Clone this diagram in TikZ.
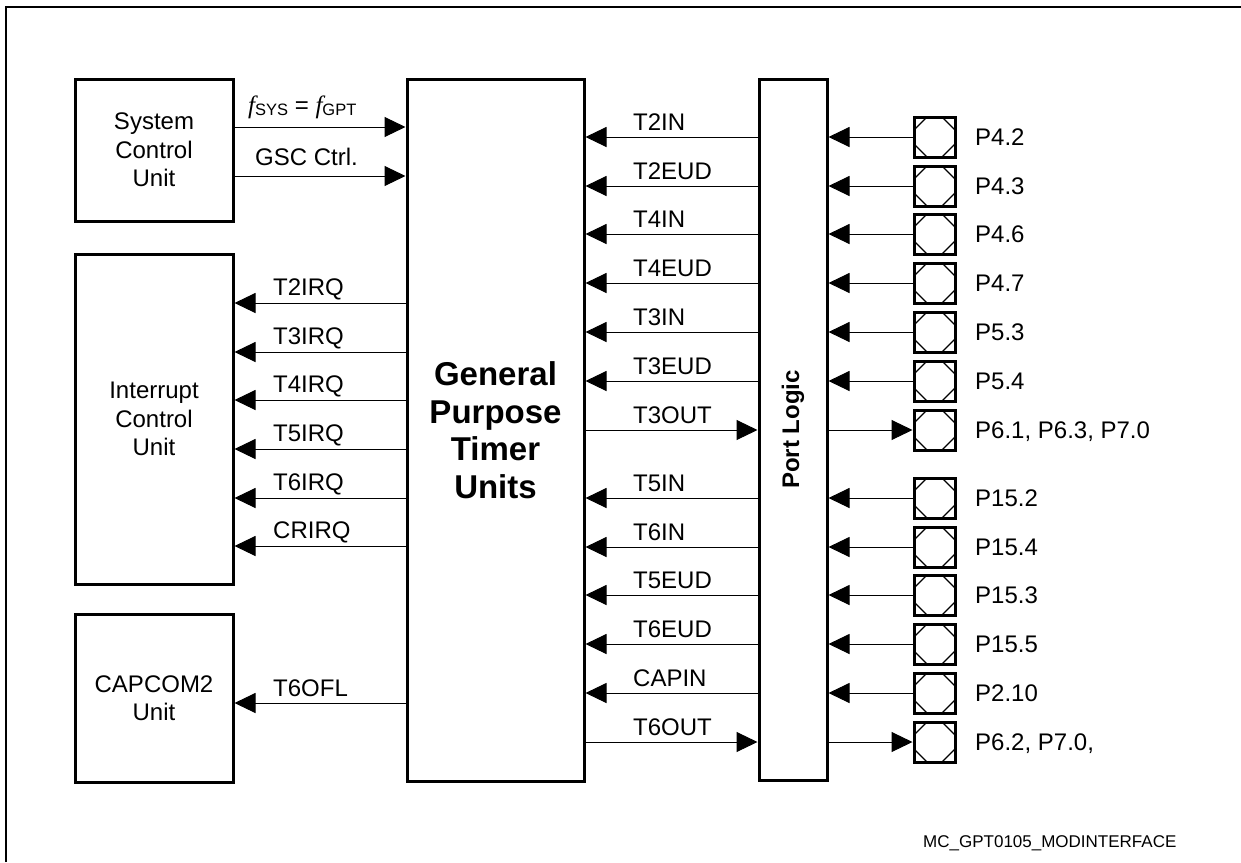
\documentclass[tikz,border=0pt]{standalone}
\usepackage{fontspec}
\setmainfont{Liberation Sans}
\newfontfamily\tnr{Liberation Serif}
\usetikzlibrary{arrows.meta}
\begin{document}
\begin{tikzpicture}[x=1pt,y=-1pt,
  blk/.style={draw, line width=3pt, minimum width=158pt, align=center, inner sep=0pt,
    font=\fontsize{24}{28.5}\selectfont},
  pinbox/.style={draw, line width=3pt, minimum width=41pt, minimum height=40pt, inner sep=0pt,
    path picture={\draw[line width=1.3pt]
      ([xshift=13pt]path picture bounding box.north west) -- ([yshift=-13pt]path picture bounding box.north west)
      ([xshift=-13pt]path picture bounding box.north east) -- ([yshift=-13pt]path picture bounding box.north east)
      ([xshift=13pt]path picture bounding box.south west) -- ([yshift=13pt]path picture bounding box.south west)
      ([xshift=-13pt]path picture bounding box.south east) -- ([yshift=13pt]path picture bounding box.south east);}},
  lbl/.style={anchor=base west, inner sep=0pt, font=\fontsize{24}{24}\selectfont},
  conn/.style={line width=1pt, -{Triangle[length=21pt,width=20pt]}},
]
\useasboundingbox (0,0) rectangle (1241,862);
% frame
\coordinate (fbl) at (6,862);
\coordinate (ftl) at (6,7);
\coordinate (ftr) at (1241,7);
\draw[line width=1.3pt] (fbl) -- (ftl) -- (ftr);

% blocks
\node[blk, minimum height=142pt] (scu) at (154,150) {System\\Control\\Unit};
\node[blk, minimum height=330pt] (icu) at (154,419) {Interrupt\\Control\\Unit};
\node[blk, minimum height=168pt] (cap) at (154,698) {CAPCOM2\\Unit};
\node[draw, line width=3pt, minimum width=177pt, minimum height=702pt, inner sep=0pt] (gpt) at (495.5,430) {};
\node[align=center, font=\bfseries\fontsize{33}{37.5}\selectfont] (gpttxt) at (gpt.center) {General\\Purpose\\Timer\\Units};
\node[draw, line width=3pt, minimum width=68pt, minimum height=701pt, inner sep=0pt] (pl) at (793,429.5) {};
\node[rotate=90, font=\bfseries\fontsize{24}{24}\selectfont] (pltxt) at (pl.center) {Port Logic};

% pins
\foreach \n/\y in {1/137,2/186,3/234,4/283,5/332,6/381,7/430,8/498,9/547,10/595,11/644,12/693,13/742}{
  \node[pinbox] (p\n) at (934.5,\y) {};
}
% pin labels
\foreach \n/\t in {1/P4.2,2/P4.3,3/P4.6,4/P4.7,5/P5.3,6/P5.4,7/{P6.1, P6.3, P7.0},8/P15.2,9/P15.4,10/P15.3,11/P15.5,12/P2.10,13/{P6.2, P7.0,}}{
  \node[lbl] (pl\n) at ([shift={(18.5pt,-8pt)}]p\n.east) {\t};
}

% GPT <-> Port logic connectors and labels
\foreach \n/\t in {1/T2IN,2/T2EUD,3/T4IN,4/T4EUD,5/T3IN,6/T3EUD,8/T5IN,9/T6IN,10/T5EUD,11/T6EUD,12/CAPIN}{
  \draw[conn] (pl.west |- p\n) -- (gpt.east |- p\n);
  \draw[conn] (p\n.west) -- (pl.east |- p\n);
  \node[lbl] (g\n) at ([yshift=7pt]633,0 |- p\n) {\t};
}
\foreach \n/\t in {7/T3OUT,13/T6OUT}{
  \draw[conn] (gpt.east |- p\n) -- (pl.west |- p\n);
  \draw[conn] (pl.east |- p\n) -- (p\n.west);
  \node[lbl] (g\n) at ([yshift=7pt]633,0 |- p\n) {\t};
}

% interrupt connectors
\foreach \n/\y/\t in {1/303/T2IRQ,2/352/T3IRQ,3/400/T4IRQ,4/449/T5IRQ,5/498/T6IRQ,6/546/CRIRQ}{
  \coordinate (i\n) at (0,\y);
  \draw[conn] (gpt.west |- i\n) -- (icu.east |- i\n);
  \node[lbl] (il\n) at (273,\y-7.5) {\t};
}
% capcom connector
\coordinate (c1) at (0,703);
\draw[conn] (gpt.west |- c1) -- (cap.east |- c1);
\node[lbl] (cl1) at (273,696) {T6OFL};

% system control connectors
\coordinate (s1) at (0,127);
\coordinate (s2) at (0,176);
\draw[conn] (scu.east |- s1) -- (gpt.west |- s1);
\draw[conn] (scu.east |- s2) -- (gpt.west |- s2);
\node[lbl] (sl1) at (248,113) {{\tnr\itshape\fontsize{25}{25}\selectfont f}\raisebox{-2pt}{\fontsize{16.5}{16.5}\selectfont SYS} = {\tnr\itshape\fontsize{25}{25}\selectfont f}\raisebox{-2pt}{\fontsize{16.5}{16.5}\selectfont GPT}};
\node[lbl] (sl2) at (255,165) {GSC Ctrl.};

% figure id
\node[anchor=base west, inner sep=0pt, font=\fontsize{17}{17}\selectfont] (fid) at (923,847) {MC\_GPT0105\_MODINTERFACE};
\end{tikzpicture}
\end{document}
